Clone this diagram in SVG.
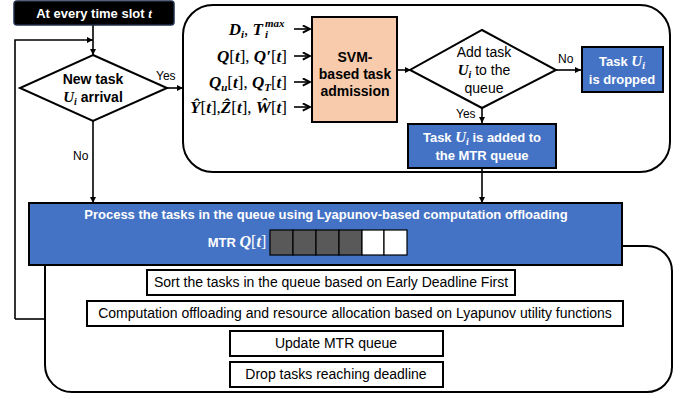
<svg xmlns="http://www.w3.org/2000/svg" width="686" height="399" viewBox="0 0 686 399">
<defs>
<marker id="ah" viewBox="0 0 10 10" refX="10" refY="5" markerWidth="6" markerHeight="6" orient="auto" markerUnits="userSpaceOnUse"><path d="M0,0 L10,5 L0,10 Z" fill="#000"/></marker>
<marker id="ahb" viewBox="0 0 10 10" refX="9" refY="5" markerWidth="9" markerHeight="9" orient="auto" markerUnits="userSpaceOnUse"><path d="M1,1 L9,5 L1,9" fill="none" stroke="#000" stroke-width="2.2"/></marker>
<style>
.ln{fill:none;stroke:#000;stroke-width:1.6}
.box{stroke:#000;stroke-width:2}
.blue{fill:#4472C4}
.wt{fill:#fff;font-family:"Liberation Sans",Arial,sans-serif;font-weight:bold;font-size:13px;text-anchor:middle}
.bt{fill:#000;font-family:"Liberation Sans",Arial,sans-serif;font-size:14px;text-anchor:middle}
.lbl{fill:#000;font-family:"Liberation Sans",Arial,sans-serif;font-size:12px}
.m{font-family:"Liberation Serif","DejaVu Serif",serif;font-style:italic;font-weight:bold}
.mr{font-family:"Liberation Serif","DejaVu Serif",serif;font-style:normal;font-weight:normal}
.inp{fill:#000;font-family:"Liberation Serif","DejaVu Serif",serif;font-style:italic;font-weight:bold;font-size:17px;text-anchor:end}
.inps{fill:#000;font-family:"Liberation Serif","DejaVu Serif",serif;font-style:italic;font-weight:bold;font-size:11px;text-anchor:start}
</style>
</defs>

<g id="connectors">
<path class="ln" d="M93,25 V55" marker-end="url(#ah)"/>
<path class="ln" d="M15,319 V40 H93" marker-end="url(#ah)"/>
<path class="ln" d="M15,319 H45"/>
<path class="ln" d="M167,88 H183" marker-end="url(#ah)"/>
<path class="ln" d="M93,121 V203" marker-end="url(#ah)"/>
<path class="ln" d="M397,70 H411" marker-end="url(#ah)"/>
<path class="ln" d="M556,70 H581" marker-end="url(#ah)"/>
<path class="ln" d="M482,108 V123" marker-end="url(#ah)"/>
<path class="ln" d="M482,168 V203" marker-end="url(#ah)"/>
<path class="ln" d="M294,29 H310" marker-end="url(#ahb)"/>
<path class="ln" d="M294,56 H310" marker-end="url(#ahb)"/>
<path class="ln" d="M294,82 H310" marker-end="url(#ahb)"/>
<path class="ln" d="M294,107 H310" marker-end="url(#ahb)"/>
<text class="lbl" x="156" y="80">Yes</text>
<text class="lbl" x="73" y="160">No</text>
<text class="lbl" x="558" y="63">No</text>
<text class="lbl" x="456" y="118">Yes</text>
</g>

<g id="admission-frame">
<path d="M213,5 H640 A30,30 0 0 1 670,35 V142 A30,30 0 0 1 640,172 H213 A30,30 0 0 1 183,142 V35 A30,30 0 0 1 213,5 Z" fill="none" stroke="#000" stroke-width="2"/>
</g>

<g id="processing-frame">
<path d="M622,246 H647 A25,25 0 0 1 672,271 V367 A25,25 0 0 1 647,392 H72 A27,27 0 0 1 45,365 V264" fill="none" stroke="#000" stroke-width="2"/>
</g>

<g id="start">
<rect x="14" y="1" width="160" height="24" rx="3" fill="#000" stroke="#1F2E4A" stroke-width="1.5"/>
<text class="wt" x="94" y="18" font-size="14">At every time slot <tspan class="m">t</tspan></text>
</g>

<g id="new-task">
<path d="M93,55 L167,88 L93,121 L20,88 Z" fill="#fff" stroke="#000" stroke-width="2"/>
<text class="bt" x="93" y="84" font-weight="bold" font-size="13">New task</text>
<text class="bt" x="93" y="102" font-weight="bold" font-size="13"><tspan class="m" font-size="15">U</tspan><tspan class="m" font-size="10" dy="3">i</tspan><tspan dy="-3"> arrival</tspan></text>
</g>

<g id="inputs">
<text class="inp" x="263" y="35">D<tspan font-size="11" dy="3">i</tspan><tspan class="mr" dy="-3">, </tspan>T</text>
<text class="inps" x="265" y="27">max</text>
<text class="inps" x="265" y="38">i</text>
<text class="inp" x="287" y="62">Q<tspan class="mr">[</tspan>t<tspan class="mr">], </tspan>Q′<tspan class="mr">[</tspan>t<tspan class="mr">]</tspan></text>
<text class="inp" x="287" y="88">Q<tspan font-size="11" dy="3">u</tspan><tspan class="mr" dy="-3">[</tspan>t<tspan class="mr">], </tspan>Q<tspan font-size="11" dy="3">T</tspan><tspan class="mr" dy="-3">[</tspan>t<tspan class="mr">]</tspan></text>
<text class="inp" x="287" y="113">Ŷ<tspan class="mr">[</tspan>t<tspan class="mr">],</tspan>Ẑ<tspan class="mr">[</tspan>t<tspan class="mr">], </tspan>Ŵ<tspan class="mr">[</tspan>t<tspan class="mr">]</tspan></text>
</g>

<g id="svm">
<rect x="312" y="17" width="85" height="105" fill="#F8CBAD" class="box"/>
<text class="bt" x="355" y="62" font-weight="bold">SVM-</text>
<text class="bt" x="355" y="79" font-weight="bold">based task</text>
<text class="bt" x="355" y="96" font-weight="bold">admission</text>
</g>

<g id="add-task">
<path d="M482,30 L556,70 L482,108 L410,70 Z" fill="#fff" stroke="#000" stroke-width="2"/>
<text class="bt" x="484" y="57" font-size="13">Add task</text>
<text class="bt" x="484" y="75" font-size="13"><tspan class="m" font-size="15" font-weight="normal">U</tspan><tspan class="m" font-size="10" font-weight="normal" dy="3">i</tspan><tspan dy="-3"> to the</tspan></text>
<text class="bt" x="484" y="93" font-size="13">queue</text>
</g>

<g id="dropped">
<rect x="582" y="47" width="81" height="45" class="box blue"/>
<text class="wt" x="622" y="66">Task <tspan class="m" font-size="15">U</tspan><tspan class="m" font-size="10" dy="3">i</tspan></text>
<text class="wt" x="622" y="84">is dropped</text>
</g>

<g id="added">
<rect x="408" y="124" width="148" height="44" class="box blue"/>
<text class="wt" x="482" y="142">Task <tspan class="m" font-size="15">U</tspan><tspan class="m" font-size="10" dy="3">i</tspan><tspan dy="-3"> is added to</tspan></text>
<text class="wt" x="482" y="160">the MTR queue</text>
</g>

<g id="process">
<rect x="29" y="203" width="593" height="62" class="box blue"/>
<text class="wt" x="326" y="219">Process the tasks in the queue using Lyapunov-based computation offloading</text>
<text class="wt" x="237" y="247">MTR <tspan class="m" font-size="16">Q</tspan><tspan class="mr" font-size="16">[</tspan><tspan class="m" font-size="16" font-weight="normal">t</tspan><tspan class="mr" font-size="16">]</tspan></text>
<g stroke="#000" stroke-width="1.2">
<rect x="270" y="230" width="23" height="25" fill="#595959"/>
<rect x="293" y="230" width="23" height="25" fill="#595959"/>
<rect x="316" y="230" width="23" height="25" fill="#595959"/>
<rect x="339" y="230" width="23" height="25" fill="#595959"/>
<rect x="362" y="230" width="22" height="25" fill="#fff"/>
<rect x="384" y="230" width="23" height="25" fill="#fff"/>
</g>
</g>

<g id="sort">
<rect x="147" y="270" width="368" height="25" fill="#fff" class="box"/>
<text class="bt" x="331" y="287">Sort the tasks in the queue based on Early Deadline First</text>
</g>
<g id="offload">
<rect x="87" y="301" width="536" height="25" fill="#fff" class="box"/>
<text class="bt" x="355" y="318">Computation offloading and resource allocation based on Lyapunov utility functions</text>
</g>
<g id="update">
<rect x="230" y="331" width="213" height="25" fill="#fff" class="box"/>
<text class="bt" x="336" y="348">Update MTR queue</text>
</g>
<g id="drop">
<rect x="230" y="362" width="213" height="25" fill="#fff" class="box"/>
<text class="bt" x="336" y="379">Drop tasks reaching deadline</text>
</g>
</svg>
